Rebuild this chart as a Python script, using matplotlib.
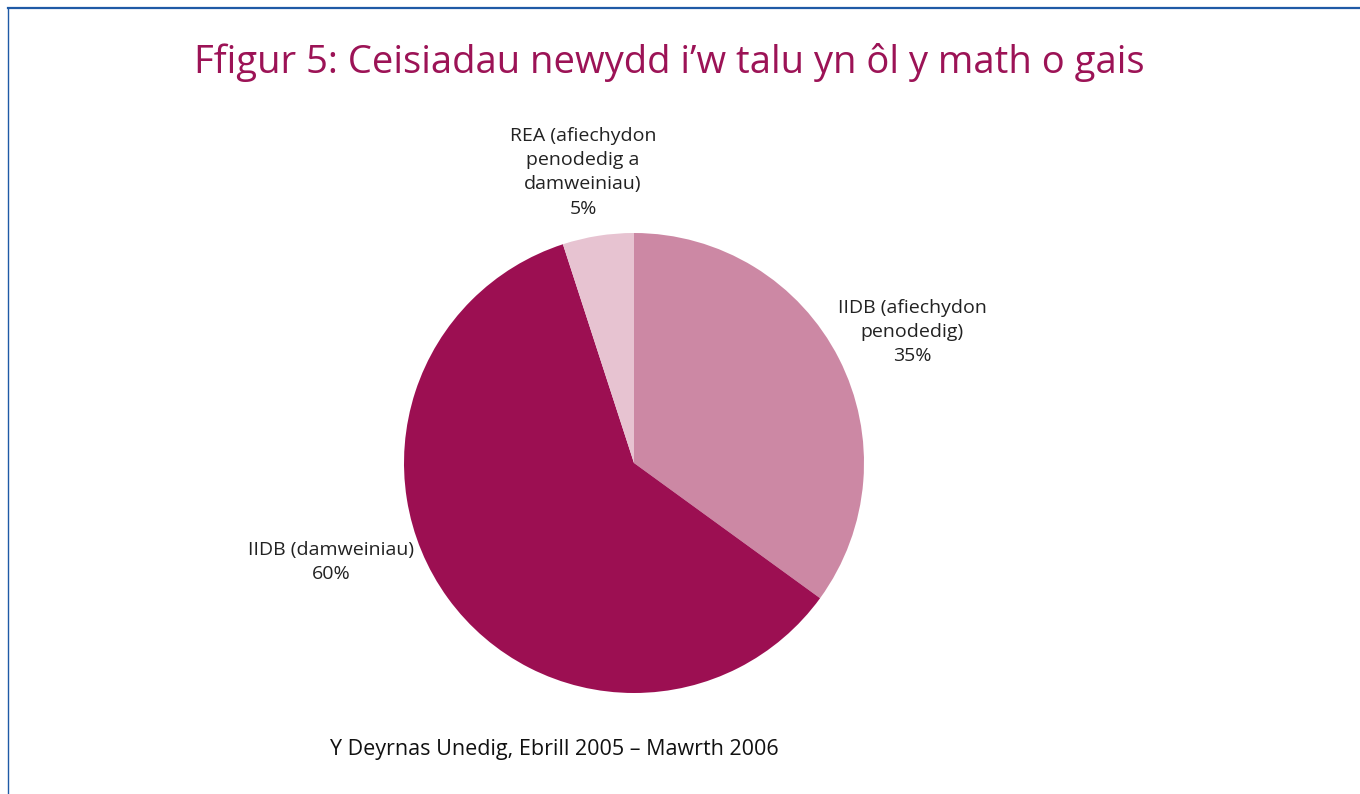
import matplotlib.pyplot as plt
from matplotlib.lines import Line2D

# data
labels = [
    "IIDB (afiechydon\npenodedig)",
    "IIDB (damweiniau)",
    "REA (afiechydon\npenodedig a\ndamweiniau)",
]
shares = [35, 60, 5]
colors = ["#CC88A4", "#9C0F52", "#E7C3D1"]

title = "Ffigur 5: Ceisiadau newydd i\u2019w talu yn \u00f4l y math o gais"
footer = "Y Deyrnas Unedig, Ebrill 2005 \u2013 Mawrth 2006"

plt.rcParams["font.family"] = ["Open Sans", "DejaVu Sans"]

fig = plt.figure(figsize=(13.6, 7.94), dpi=100)

# frame lines (top and left)
fig.add_artist(Line2D([8 / 1360, 1], [1 - 8 / 794, 1 - 8 / 794],
                      transform=fig.transFigure, color="#1F5AA6", lw=1.6))
fig.add_artist(Line2D([8 / 1360, 8 / 1360], [0, 1 - 8 / 794],
                      transform=fig.transFigure, color="#1F5AA6", lw=1.0))

fig.text(669 / 1360, 1 - 63 / 794, title, ha="center", va="center",
         fontsize=27.5, color="#9C1356")

ax = fig.add_axes([(634 - 230) / 1360, (794 - 693) / 794,
                   460 / 1360, 460 / 794])

wedges, _ = ax.pie(
    shares,
    colors=colors,
    startangle=90,
    counterclock=False,
    radius=1.0,
    wedgeprops={"linewidth": 0},
)
ax.set_xlim(-1, 1)
ax.set_ylim(-1, 1)
ax.set_aspect("equal")

label_pos = [(1.21, 0.57), (-1.317, -0.43), (-0.222, 1.265)]
for lab, val, (lx, ly) in zip(labels, shares, label_pos):
    ax.text(lx, ly, f"{lab}\n{val}%", ha="center", va="center",
            fontsize=14, linespacing=1.45, color="#222222", clip_on=False)

fig.text(554 / 1360, 1 - 750 / 794, footer, ha="center", va="center",
         fontsize=15.5, color="#111111")

fig.savefig("out.png", dpi=100)
